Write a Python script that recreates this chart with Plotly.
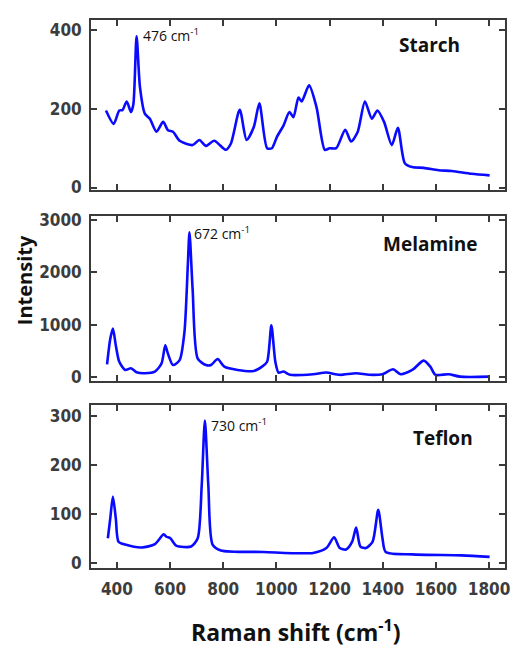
import plotly.graph_objects as go

# ---- data ----
starch_x = [359, 388, 409, 421, 437, 453, 462, 474, 487, 505, 524, 549, 574, 592, 611, 636, 685, 710, 735, 766,
            810, 829, 862, 888, 915, 936, 965, 983, 1002, 1027, 1049, 1064, 1083, 1095, 1123, 1151, 1182, 1200,
            1225, 1259, 1281, 1306, 1333, 1359, 1380, 1405, 1434, 1457, 1483, 1511, 1554, 1610, 1660, 1734, 1802]
starch_y = [196, 162, 196, 197, 219, 192, 212, 385, 254, 188, 175, 142, 167, 146, 142, 119, 108, 121, 106, 119,
            96, 112, 198, 121, 154, 214, 100, 100, 129, 158, 192, 179, 229, 219, 260, 204, 96, 100,
            100, 147, 117, 142, 219, 175, 196, 167, 108, 152, 62, 52, 50, 44, 42, 35, 31]

melamine_x = [363, 375, 385, 396, 409, 431, 453, 474, 505, 543, 568, 582, 592, 611, 636, 654, 667, 673, 685, 704,
              735, 754, 779, 804, 854, 915, 946, 965, 981, 996, 1008, 1027, 1052, 1138, 1188, 1238, 1300, 1349,
              1399, 1439, 1467, 1511, 1554, 1579, 1598, 1648, 1691, 1802]
melamine_y = [248, 733, 930, 609, 298, 143, 174, 99, 81, 112, 267, 610, 453, 236, 329, 857, 2161, 2760, 1665, 360,
              236, 236, 350, 205, 143, 124, 205, 298, 990, 298, 93, 112, 50, 62, 93, 50, 81, 50,
              62, 155, 62, 143, 320, 205, 50, 62, 15, 15]

teflon_x = [366, 375, 385, 396, 406, 431, 493, 543, 576, 586, 601, 623, 679, 704, 719, 731, 744, 760, 791, 952,
            1138, 1188, 1217, 1238, 1262, 1285, 1300, 1316, 1337, 1362, 1383, 1399, 1411, 1511, 1697, 1802]
teflon_y = [50, 90, 135, 90, 43, 37, 31, 38, 58, 53, 50, 35, 33, 50, 157, 290, 157, 37, 25, 22,
            20, 30, 52, 30, 27, 43, 72, 33, 30, 43, 108, 50, 22, 17, 15, 12]

x_ticks = [400, 600, 800, 1000, 1200, 1400, 1600, 1800]
starch_ticks = [0, 200, 400]
melamine_ticks = [0, 1000, 2000, 3000]
teflon_ticks = [0, 100, 200, 300]

W, H = 513, 655


def px(v):
    return v / W


def py(v):
    return 1 - v / H


fig = go.Figure()
line = dict(color="#0a0aff", width=2.6, shape="spline", smoothing=0.7)
fig.add_trace(go.Scatter(x=starch_x, y=starch_y, mode="lines", line=line, xaxis="x", yaxis="y"))
fig.add_trace(go.Scatter(x=melamine_x, y=melamine_y, mode="lines", line=line, xaxis="x2", yaxis="y2"))
fig.add_trace(go.Scatter(x=teflon_x, y=teflon_y, mode="lines", line=line, xaxis="x3", yaxis="y3"))

tickfont = dict(family="Liberation Sans Narrow, DejaVu Sans Condensed, Liberation Sans", size=17,
                color="#3c3c3c", weight="bold")
frame = dict(showline=True, linecolor="#3a3a3a", linewidth=2, mirror="ticks", ticks="inside", ticklen=6,
             tickwidth=2, tickcolor="#3a3a3a", showgrid=False, zeroline=False, ticklabeloverflow="allow")

xdom = [px(92), px(510)]
xr = [303, 1860]
panels = [
    ("", "", [py(188), py(14)], [-7, 427], starch_ticks, False),
    ("2", "2", [py(383), py(214)], [-75, 3075], melamine_ticks, False),
    ("3", "3", [py(573), py(407)], [-10, 322], teflon_ticks, True),
]
for xs, ys, ydom, yr, yt, show in panels:
    fig.layout["xaxis" + xs] = dict(domain=xdom, range=xr, anchor="y" + ys, tickvals=x_ticks,
                                    showticklabels=show, tickfont=tickfont, ticklabelstandoff=5, **frame)
    fig.layout["yaxis" + ys] = dict(domain=ydom, range=yr, anchor="x" + xs, tickvals=yt,
                                    tickfont=tickfont, ticklabelstandoff=4, **frame)

title_font = dict(family="Open Sans", size=20, color="#111111", weight="bold")
xtitle_font = dict(family="Open Sans", size=23, color="#111111", weight="bold")
name_font = dict(family="Open Sans", size=19, color="#111111", weight="bold")
peak_font = dict(family="Open Sans", size=14, color="#111111")

ann = [
    dict(text="Intensity", x=px(25), y=py(280), textangle=-90, font=title_font),
    dict(text="Raman shift (cm<sup>-1</sup>)", x=px(298), y=py(638), font=xtitle_font),
    dict(text="Starch", x=px(434), y=py(40), font=name_font),
    dict(text="Melamine", x=px(435), y=py(243), font=name_font),
    dict(text="Teflon", x=px(447), y=py(441), font=name_font),
    dict(text="476 cm<sup>-1</sup>", x=px(142), y=py(30), font=peak_font, xanchor="left"),
    dict(text="672 cm<sup>-1</sup>", x=px(194), y=py(232), font=peak_font, xanchor="left"),
    dict(text="730 cm<sup>-1</sup>", x=px(211), y=py(427), font=peak_font, xanchor="left"),
]
for a in ann:
    a.setdefault("xanchor", "center")
    a.update(xref="paper", yref="paper", showarrow=False, yanchor="middle")
fig.update_layout(annotations=ann)

fig.update_layout(width=W, height=H, margin=dict(l=0, r=0, t=0, b=0), showlegend=False,
                  plot_bgcolor="white", paper_bgcolor="white")

fig.write_html("out.html", config={"displayModeBar": False},
               post_script="document.body.style.margin='0';document.body.style.overflow='hidden';")
